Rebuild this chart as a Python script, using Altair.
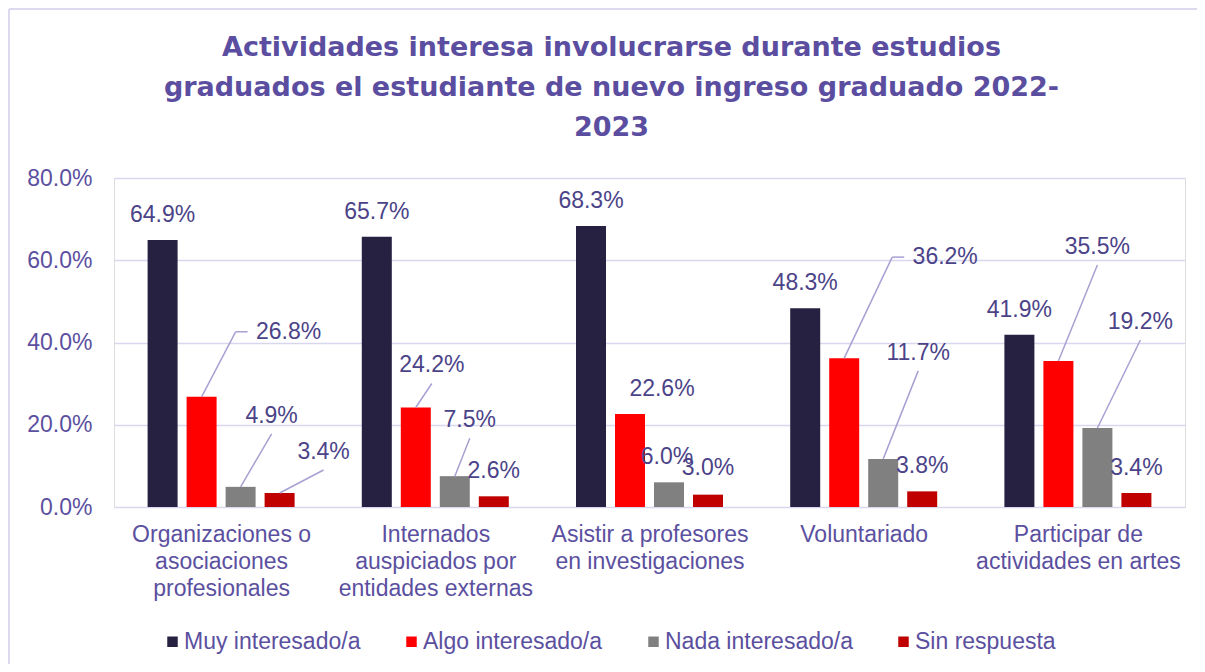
import altair as alt
import pandas as pd

# ---------------- data ----------------
categories = [
    "Organizaciones o asociaciones profesionales",
    "Internados auspiciados por entidades externas",
    "Asistir a profesores en investigaciones",
    "Voluntariado",
    "Participar de actividades en artes",
]
category_lines = [
    ["Organizaciones o", "asociaciones", "profesionales"],
    ["Internados", "auspiciados por", "entidades externas"],
    ["Asistir a profesores", "en investigaciones"],
    ["Voluntariado"],
    ["Participar de", "actividades en artes"],
]
series = ["Muy interesado/a", "Algo interesado/a", "Nada interesado/a", "Sin respuesta"]
muy = [64.9, 65.7, 68.3, 48.3, 41.9]
algo = [26.8, 24.2, 22.6, 36.2, 35.5]
nada = [4.9, 7.5, 6.0, 11.7, 19.2]
sin = [3.4, 2.6, 3.0, 3.8, 3.4]
y_ticks = [0, 20, 40, 60, 80]
title_lines = [
    "Actividades interesa involucrarse durante estudios",
    "graduados el estudiante de nuevo ingreso graduado 2022-",
    "2023",
]

# ---------------- style ----------------
colors = ["#262140", "#FF0000", "#808080", "#C00000"]
TITLE_COLOR = "#5B4EA0"
AXIS_COLOR = "#5B509F"
LABEL_COLOR = "#4B4388"
GRID_COLOR = "#D9D7EE"
FRAME_COLOR = "#DCDAEF"
LEADER_COLOR = "#A7A1D3"
FONT = "Liberation Sans"

W, H = 1071, 329
PAD = {"left": 106, "top": 170, "right": 12, "bottom": 157}
PXX = W / 5.0        # px per category unit
PXY = H / 80.0       # px per percent
BAR_W = 30
BAR_STEP = 39
LABEL_GAP = 25       # px between bar top and label centre

# per-label nudges (px) to mimic the manual label placement, [series][category]
label_dx = [[0, 0, 0, 0, 0], [87, 16, 32, 101, 39], [31, 15, -2, 35, 43], [44, 0, 0, 0, 0]]
label_dy = [[0, 0, 0, 0, 0], [-40, -17, 0, -76, -89], [-46, -31, 0, -81, -81], [-16, 0, -2, 0, 0]]
leader = [["", "", "", "", ""],
          ["left", "below", "", "left", "below"],
          ["below", "below", "", "below", "below"],
          ["below", "", "", "", ""]]

values = [muy, algo, nada, sin]
rows, segs = [], []
for s, name in enumerate(series):
    for i, cat in enumerate(categories):
        v = values[s][i]
        bx = i + 0.5 + (s - 1.5) * BAR_STEP / PXX
        lx = bx + label_dx[s][i] / PXX
        ly = v + (LABEL_GAP - label_dy[s][i]) / PXY
        rows.append(dict(cat=cat, series=name, value=v,
                         x0=bx - BAR_W / 2 / PXX, x1=bx + BAR_W / 2 / PXX,
                         lx=lx, ly=ly, label=f"{v:.1f}%"))
        kind = leader[s][i]
        if kind == "below":
            segs.append(dict(x=bx, y=v, x2=lx, y2=ly - 18 / PXY))
        elif kind == "left":
            segs.append(dict(x=bx, y=v, x2=lx - 53 / PXX, y2=ly))
            segs.append(dict(x=lx - 53 / PXX, y=ly, x2=lx - 41 / PXX, y2=ly))

df = pd.DataFrame(rows)
seg_df = pd.DataFrame(segs)

xscale = alt.Scale(domain=[0, 5], nice=False, zero=False)
yscale = alt.Scale(domain=[0, 80], nice=False)

lines_expr = "[" + ",".join(
    "[" + ",".join("'" + t + "'" for t in lines) + "]" for lines in category_lines
) + "][floor(datum.value)]"

bars = alt.Chart(df).mark_bar().encode(
    x=alt.X("x0:Q", scale=xscale, title=None,
            axis=alt.Axis(values=[0.5, 1.5, 2.5, 3.5, 4.5], labelExpr=lines_expr,
                          grid=False, ticks=False, domain=False, labelOverlap=False,
                          labelFlush=False, labelBound=False, labelFont=FONT,
                          labelFontSize=23, labelColor=AXIS_COLOR, labelLineHeight=27,
                          labelPadding=16, labelBaseline="top", labelLimit=400)),
    x2="x1:Q",
    y=alt.Y("value:Q", scale=yscale, title=None,
            axis=alt.Axis(values=y_ticks, labelExpr="format(datum.value, '.1f') + '%'",
                          grid=True, gridColor=GRID_COLOR, gridWidth=1.5,
                          ticks=False, domain=False, labelFont=FONT, labelFontSize=23,
                          labelColor=AXIS_COLOR, labelPadding=22)),
    y2=alt.datum(0),
    color=alt.Color("series:N", scale=alt.Scale(domain=series, range=colors),
                    sort=series,
                    legend=alt.Legend(orient="none", legendX=47, legendY=452,
                                      direction="horizontal", title=None,
                                      symbolType="square", symbolSize=110,
                                      symbolStrokeWidth=0, labelFont=FONT,
                                      labelFontSize=23, labelColor=AXIS_COLOR,
                                      columnPadding=39, labelOffset=0, padding=0,
                                      labelLimit=400)),
)

leaders = alt.Chart(seg_df).mark_rule(color=LEADER_COLOR, strokeWidth=1.5).encode(
    x=alt.X("x:Q", scale=xscale), y=alt.Y("y:Q", scale=yscale),
    x2="x2:Q", y2="y2:Q",
)

labels = alt.Chart(df).mark_text(font=FONT, fontSize=23, color=LABEL_COLOR,
                                 align="center", baseline="middle").encode(
    x=alt.X("lx:Q", scale=xscale), y=alt.Y("ly:Q", scale=yscale), text="label:N",
)

# light frame around the chart (left and top edges)
frame_src = alt.Data(values=[{"k": 0}])
frame_left = alt.Chart(frame_src).mark_rule(color=FRAME_COLOR, strokeWidth=2).encode(
    x=alt.value(-PAD["left"] + 1), y=alt.value(-PAD["top"] + 1),
    y2=alt.value(H + PAD["bottom"]),
)
frame_top = alt.Chart(frame_src).mark_rule(color=FRAME_COLOR, strokeWidth=2).encode(
    x=alt.value(-PAD["left"] + 1), x2=alt.value(W + PAD["right"]),
    y=alt.value(-PAD["top"] + 1),
)

chart = alt.layer(frame_left, frame_top, bars, leaders, labels).properties(
    width=W, height=H,
    title=alt.TitleParams(text=title_lines, font="DejaVu Sans", fontSize=27,
                          fontWeight="bold", color=TITLE_COLOR, lineHeight=40,
                          anchor="middle", frame="group", dx=-38, offset=-134),
    autosize=alt.AutoSizeParams(type="none"),
    padding=PAD,
).configure_view(stroke=None).configure(background="white")

chart.save("out.html", embed_options={"renderer": "svg", "actions": False})
